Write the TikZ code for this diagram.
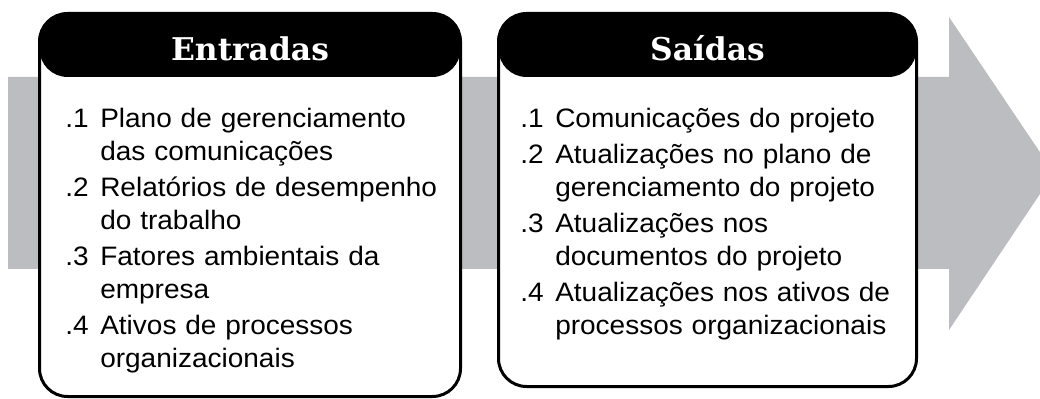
\documentclass[tikz,border=0pt]{standalone}
\usepackage{fontspec}
\setmainfont{Liberation Sans}[FakeStretch=1.05]
\newfontfamily\headfont{DejaVu Serif}
\usetikzlibrary{positioning}
\definecolor{flowgray}{RGB}{188,189,192}
\newcommand{\entry}[2]{\par\hangindent=26.25pt\hangafter=1\noindent\hbox to 26.25pt{#1\hfil}#2\par}
\tikzset{
  panel/.style={rectangle,rounded corners=21pt,draw=black,line width=2.25pt,fill=white,inner sep=0pt,
    path picture={\fill[black] (path picture bounding box.north west) rectangle ([yshift=-47.6pt]path picture bounding box.north east);}},
  paneltitle/.style={anchor=base,text=white,inner sep=0pt,font=\headfont\bfseries\fontsize{23.5}{26}\selectfont},
  itemlist/.style={anchor=north west,inner sep=0pt,text width=290pt,
    font=\fontsize{20}{24.75}\selectfont\raggedright\setlength{\parskip}{2.25pt}}
}

\begin{document}
\begin{tikzpicture}[x=0.75pt,y=-0.75pt]
  \useasboundingbox (0,0) rectangle (1040,399);
  \clip (0,0) rectangle (1040,399);
  % gray process arrow
  \fill[flowgray] (8,77) -- (949,77) -- (949,17) -- (1054,173) -- (949,330) -- (949,269) -- (8,269) -- cycle;
  % inputs
  \node[panel,minimum width=315.75pt,minimum height=287.25pt] (inputs) at (250,205) {};
  \node[paneltitle] (intitle) at (250,61) {Entradas};
  \node[itemlist] (inlist) at (65,91) {%
    \entry{.1}{Plano de gerenciamento\newline das comunicações}
    \entry{.2}{Relatórios de desempenho\newline do trabalho}
    \entry{.3}{Fatores ambientais da\newline empresa}
    \entry{.4}{Ativos de processos\newline organizacionais}};
  % outputs
  \node[panel,minimum width=313.5pt,minimum height=279.75pt] (outputs) at (707.5,200) {};
  \node[paneltitle] (outtitle) at (707.5,61) {Saídas};
  \node[itemlist] (outlist) at (520,91) {%
    \entry{.1}{Comunicações do projeto}
    \entry{.2}{Atualizações no plano de\newline gerenciamento do projeto}
    \entry{.3}{Atualizações nos\newline documentos do projeto}
    \entry{.4}{Atualizações nos ativos de\newline processos organizacionais}};
\end{tikzpicture}
\end{document}
